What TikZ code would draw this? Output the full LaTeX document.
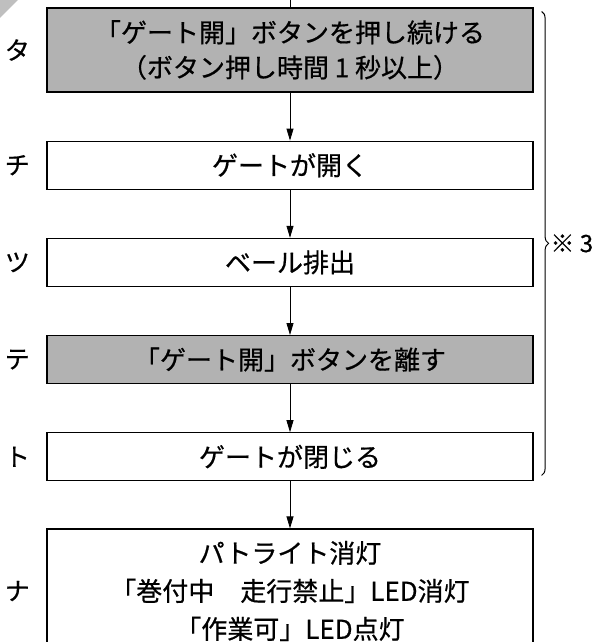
\documentclass[tikz,border=0pt]{standalone}
\usepackage{fontspec}
\setmainfont[FakeBold=0.6]{Noto Sans CJK JP}
\usetikzlibrary{arrows.meta, positioning, calc, decorations.pathreplacing}
\tikzset{
  stepbox/.style={draw, line width=1.2pt, minimum width=486pt, minimum height=48pt,
    align=center, inner sep=0pt, font=\fontsize{26}{35}\selectfont},
  greybox/.style={stepbox, fill=black!30},
  flowarrow/.style={-{Triangle[length=12pt, width=7pt]}, line width=0.8pt},
  sidelabel/.style={font=\fontsize{25}{25}\selectfont}
}

\begin{document}
\begin{tikzpicture}[x=1pt, y=1pt]
  \useasboundingbox (0,0) rectangle (597,-642);
  \fill[black!25] (0,0) -- (18,0) -- (0,-18) -- cycle;

  \node[greybox, minimum height=84pt] (ta) at (290,-50) {「ゲート開」ボタンを押し続ける\\（ボタン押し時間 1 秒以上）};
  \node[stepbox, below=48pt of ta] (chi) {ゲートが開く};
  \node[stepbox, below=48pt of chi] (tsu) {ベール排出};
  \node[greybox, below=48pt of tsu] (te) {「ゲート開」ボタンを離す};
  \node[stepbox, below=48pt of te] (to) {ゲートが閉じる};
  \node[stepbox, below=47pt of to, minimum height=124pt, font=\fontsize{26}{38}\selectfont] (na)
    {パトライト消灯\\「巻付中　走行禁止」LED消灯\\「作業可」LED点灯};

  % step letters on the left
  \foreach \b/\t in {ta/タ, chi/チ, tsu/ツ, te/テ, to/ト, na/ナ}
    \node[sidelabel, left=13pt of \b] (lbl-\b) {\t};

  \coordinate (start) at (290,0);
  \draw[line width=0.8pt] (start) -- (ta.north);
  \foreach \a/\b in {ta/chi, chi/tsu, tsu/te, te/to, to/na}
    \draw[flowarrow] (\a) -- (\b);

  % brace over the gate steps
  \coordinate (brtop) at ($(ta.north east)+(8pt,-4pt)$);
  \coordinate (brbot) at ($(to.south east)+(8pt,6pt)$);
  \draw[decorate, decoration={brace, amplitude=7pt}, line width=1pt] (brtop) -- (brbot)
    node[midway, right=5pt, font=\fontsize{24}{24}\selectfont] (note) {※ 3};
\end{tikzpicture}
\end{document}
